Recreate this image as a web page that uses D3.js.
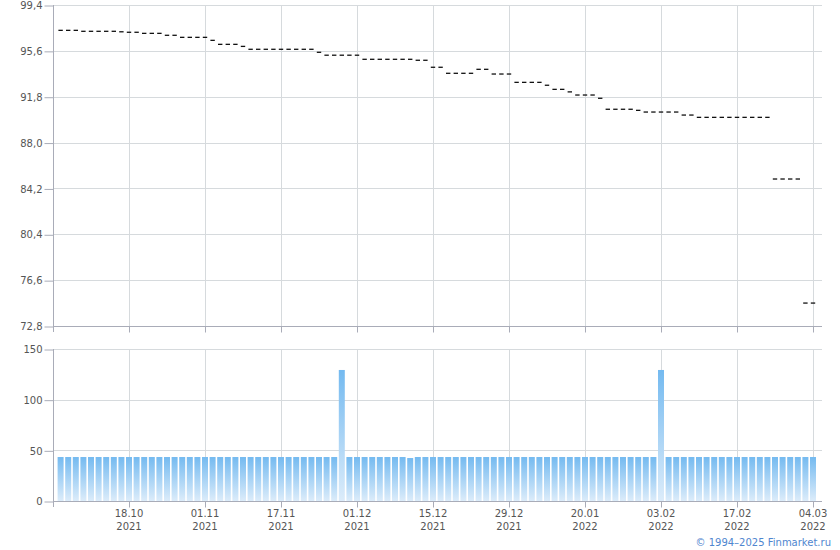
<!DOCTYPE html>
<html><head><meta charset="utf-8">
<script src="https://cdn.jsdelivr.net/npm/d3@7"></script>
<style>
body{margin:0;background:#fff}
text{font-family:"DejaVu Sans",Verdana,sans-serif;}
</style>
</head><body>
<svg id="c" width="840" height="550"></svg>
<script>
const dates = [
"05.10.2021","06.10.2021","07.10.2021","08.10.2021","11.10.2021","12.10.2021","13.10.2021","14.10.2021","15.10.2021","18.10.2021",
"19.10.2021","20.10.2021","21.10.2021","22.10.2021","25.10.2021","26.10.2021","27.10.2021","28.10.2021","29.10.2021","01.11.2021",
"02.11.2021","03.11.2021","08.11.2021","09.11.2021","10.11.2021","11.11.2021","12.11.2021","15.11.2021","16.11.2021","17.11.2021",
"18.11.2021","19.11.2021","22.11.2021","23.11.2021","24.11.2021","25.11.2021","26.11.2021","29.11.2021","30.11.2021","01.12.2021",
"02.12.2021","03.12.2021","06.12.2021","07.12.2021","08.12.2021","09.12.2021","10.12.2021","13.12.2021","14.12.2021","15.12.2021",
"16.12.2021","17.12.2021","20.12.2021","21.12.2021","22.12.2021","23.12.2021","24.12.2021","27.12.2021","28.12.2021","29.12.2021",
"30.12.2021","10.01.2022","11.01.2022","12.01.2022","13.01.2022","14.01.2022","17.01.2022","18.01.2022","19.01.2022","20.01.2022",
"21.01.2022","24.01.2022","25.01.2022","26.01.2022","27.01.2022","28.01.2022","31.01.2022","01.02.2022","02.02.2022","03.02.2022",
"04.02.2022","07.02.2022","08.02.2022","09.02.2022","10.02.2022","11.02.2022","14.02.2022","15.02.2022","16.02.2022","17.02.2022",
"18.02.2022","21.02.2022","22.02.2022","24.02.2022","25.02.2022","28.02.2022","01.03.2022","02.03.2022","03.03.2022","04.03.2022"
];
const prices = [
97.30,97.30,97.30,97.22,97.22,97.22,97.22,97.22,97.18,97.14,
97.14,97.05,97.05,97.05,96.89,96.89,96.72,96.72,96.72,96.72,
96.47,96.14,96.14,96.14,95.97,95.73,95.73,95.73,95.73,95.73,
95.73,95.73,95.73,95.73,95.48,95.24,95.24,95.24,95.24,95.24,
94.90,94.90,94.90,94.90,94.90,94.90,94.90,94.82,94.82,94.24,
94.24,93.74,93.74,93.74,93.74,94.07,94.07,93.68,93.68,93.68,
92.99,92.99,92.99,92.99,92.75,92.41,92.41,92.20,91.94,91.94,
91.94,91.67,90.76,90.76,90.76,90.76,90.67,90.53,90.53,90.53,
90.53,90.53,90.28,90.28,90.09,90.09,90.09,90.09,90.09,90.09,
90.09,90.09,90.09,90.09,84.98,84.98,84.98,84.98,74.70,74.70
];
const volumes = [
43.4,43.4,43.4,43.4,43.4,43.4,43.4,43.4,43.4,43.4,
43.4,43.4,43.4,43.4,43.4,43.4,43.4,43.4,43.4,43.4,
43.4,43.4,43.4,43.4,43.4,43.4,43.4,43.4,43.4,43.4,
43.4,43.4,43.4,43.4,43.4,43.4,43.4,129.3,43.4,43.4,
43.4,43.4,43.4,43.4,43.4,43.4,42.4,43.4,43.4,43.4,
43.4,43.4,43.4,43.4,43.4,43.4,43.4,43.4,43.4,43.4,
43.4,43.4,43.4,43.4,43.4,43.4,43.4,43.4,43.4,43.4,
43.4,43.4,43.4,43.4,43.4,43.4,43.4,43.4,43.4,129.3,
43.4,43.4,43.4,43.4,43.4,43.4,43.4,43.4,43.4,43.4,
43.4,43.4,43.4,43.4,43.4,43.4,43.4,43.4,43.4,43.4
];
const priceTicks = [99.4,95.6,91.8,88.0,84.2,80.4,76.6,72.8];
const volumeTicks = [0,50,100,150];
const dateTicks = ["18.10.2021","01.11.2021","17.11.2021","01.12.2021","15.12.2021","29.12.2021","20.01.2022","03.02.2022","17.02.2022","04.03.2022"];
const footer = "© 1994–2025 Finmarket.ru";

const svg = d3.select("#c");
const L = 53, R = 822;
const topY0 = 5, topY1 = 326, botY0 = 349, botY1 = 501;
const gridC = "#d6dadd", axisC = "#a9acb8", textC = "#555";

const x = d3.scalePoint().domain(dates).range([60.6, 813]);
const yP = d3.scaleLinear().domain([72.8, 99.4]).range([topY1, topY0]);
const yV = d3.scaleLinear().domain([0, 150]).range([botY1, botY0]);
const px = d => Math.round(x(d)) + 0.5;

const defs = svg.append("defs");
const gr = defs.append("linearGradient").attr("id","vg").attr("x1",0).attr("y1",0).attr("x2",0).attr("y2",1);
gr.append("stop").attr("offset","0%").attr("stop-color","#74baf0");
gr.append("stop").attr("offset","100%").attr("stop-color","#dcecfa");

// grids
const g = svg.append("g");
g.selectAll(".hgT").data(priceTicks.filter(v => v !== 72.8)).join("line")
  .attr("x1", L).attr("x2", R).attr("y1", d => Math.round(yP(d)) + 0.5).attr("y2", d => Math.round(yP(d)) + 0.5)
  .attr("stroke", gridC);
g.selectAll(".hgB").data(volumeTicks.filter(v => v !== 0)).join("line")
  .attr("x1", L).attr("x2", R).attr("y1", d => Math.round(yV(d)) + 0.5).attr("y2", d => Math.round(yV(d)) + 0.5)
  .attr("stroke", gridC);
g.selectAll(".vgT").data(dateTicks).join("line")
  .attr("x1", px).attr("x2", px).attr("y1", topY0).attr("y2", topY1).attr("stroke", gridC);
g.selectAll(".vgB").data(dateTicks).join("line")
  .attr("x1", px).attr("x2", px).attr("y1", botY0).attr("y2", botY1).attr("stroke", gridC);

// volume bars
svg.append("g").selectAll("rect").data(dates).join("rect")
  .attr("x", d => x(d) - 3).attr("width", 6)
  .attr("y", (d, i) => yV(volumes[i])).attr("height", (d, i) => yV(0) - yV(volumes[i]))
  .attr("fill", "url(#vg)");

// price dashes
svg.append("g").selectAll("line").data(dates).join("line")
  .attr("x1", d => x(d) - 2.2).attr("x2", d => x(d) + 2.2)
  .attr("y1", (d, i) => yP(prices[i])).attr("y2", (d, i) => yP(prices[i]))
  .attr("stroke", "#111").attr("stroke-width", 1.3);

// axes
function styleAxis(sel){
  sel.select(".domain").remove();
  sel.selectAll(".tick line").attr("stroke", axisC);
  sel.selectAll(".tick text").attr("fill", textC).style("font-size","10px").style("font-family",'"DejaVu Sans",Verdana,sans-serif');
}
const fmt = v => v.toFixed(1).replace(".", ",");
svg.append("g").attr("transform", `translate(${L + 0.5},0.5)`)
  .call(d3.axisLeft(yP).tickValues(priceTicks).tickFormat(fmt).tickSize(9).tickPadding(2))
  .call(styleAxis);
svg.append("g").attr("transform", `translate(${L + 0.5},0.5)`)
  .call(d3.axisLeft(yV).tickValues(volumeTicks).tickFormat(d3.format("d")).tickSize(9).tickPadding(2))
  .call(styleAxis);

// axis lines
svg.append("line").attr("x1", L + 0.5).attr("x2", L + 0.5).attr("y1", topY0).attr("y2", topY1 + 6).attr("stroke", axisC);
svg.append("line").attr("x1", L + 0.5).attr("x2", L + 0.5).attr("y1", botY0).attr("y2", botY1 + 6).attr("stroke", axisC);

const xaT = svg.append("g").attr("transform", `translate(0,${topY1 + 0.5})`)
  .call(d3.axisBottom(x).tickValues(dateTicks).tickSize(6).tickFormat(""));
xaT.select(".domain").remove();
xaT.selectAll(".tick line").attr("stroke", axisC);
svg.append("line").attr("x1", L).attr("x2", R).attr("y1", topY1 + 0.5).attr("y2", topY1 + 0.5).attr("stroke", axisC);

const xaB = svg.append("g").attr("transform", `translate(0,${botY1 + 0.5})`)
  .call(d3.axisBottom(x).tickValues(dateTicks).tickSize(6).tickFormat(""));
xaB.select(".domain").remove();
xaB.selectAll(".tick line").attr("stroke", axisC);
xaB.selectAll(".tick text").remove();
svg.append("line").attr("x1", L).attr("x2", R).attr("y1", botY1 + 0.5).attr("y2", botY1 + 0.5).attr("stroke", axisC);

const lbl = svg.append("g").selectAll("text").data(dateTicks).join("text")
  .attr("text-anchor", "middle").attr("fill", textC).style("font-size", "10px");
lbl.append("tspan").attr("x", d => x(d)).attr("y", 517).text(d => d.slice(0, 5));
lbl.append("tspan").attr("x", d => x(d)).attr("y", 530).text(d => d.slice(6));

svg.append("text").attr("x", 831).attr("y", 546).attr("text-anchor", "end")
  .attr("fill", "#4f86cf").style("font-size", "10px").text(footer);
</script>
</body></html>
